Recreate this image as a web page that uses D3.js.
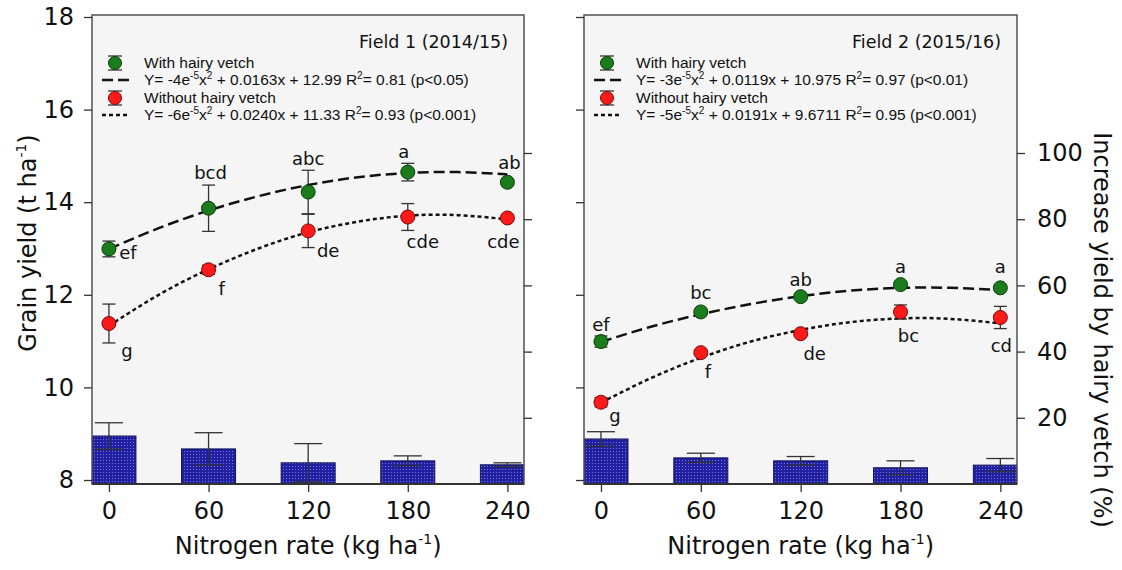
<!DOCTYPE html>
<html>
<head>
<meta charset="utf-8">
<script src="https://cdn.jsdelivr.net/npm/d3@7"></script>
<style>
  body { margin: 0; background: #fff; }
  svg { display: block; }
</style>
</head>
<body>
<svg width="1122" height="570"></svg>
<script>
// nitrogen rates (kg/ha) and tick values
var nRates = [0, 60, 120, 180, 240];
var yTicks = [8, 10, 12, 14, 16, 18];
var pctTicks = [20, 40, 60, 80, 100];
var fitRates = [0, 30, 60, 90, 120, 150, 180, 210, 240];

// Field 1 (2014/15) grain yield, t/ha
var f1With = [12.99, 13.87, 14.22, 14.65, 14.43];
var f1WithErr = [0.17, 0.5, 0.47, 0.19, 0.05];
var f1Without = [11.38, 12.54, 13.38, 13.68, 13.66];
var f1WithoutErr = [0.42, 0.1, 0.36, 0.29, 0.05];
var f1Increase = [14.5, 10.6, 6.4, 7.0, 5.8];
var f1IncreaseErr = [4.0, 4.9, 5.8, 1.5, 0.6];
var f1WithFit = [12.99, 13.44, 13.82, 14.13, 14.37, 14.54, 14.63, 14.65, 14.60];
var f1WithoutFit = [11.33, 12.00, 12.55, 13.00, 13.35, 13.58, 13.71, 13.72, 13.63];
var f1WithLetters = ["ef", "bcd", "abc", "a", "ab"];
var f1WithoutLetters = ["g", "f", "de", "cde", "cde"];

// Field 2 (2015/16)
var f2With = [10.99, 11.63, 11.96, 12.22, 12.15];
var f2WithErr = [0.12, 0.05, 0.05, 0.05, 0.05];
var f2Without = [9.68, 10.75, 11.16, 11.63, 11.51];
var f2WithoutErr = [0.1, 0.05, 0.05, 0.15, 0.24];
var f2Increase = [13.6, 7.9, 7.0, 4.9, 5.7];
var f2IncreaseErr = [2.2, 1.4, 1.3, 2.1, 2.0];
var f2WithFit = [10.98, 11.31, 11.58, 11.80, 11.97, 12.09, 12.15, 12.15, 12.10];
var f2WithoutFit = [9.67, 10.20, 10.64, 10.99, 11.24, 11.41, 11.49, 11.48, 11.38];
var f2WithLetters = ["ef", "bc", "ab", "a", "a"];
var f2WithoutLetters = ["g", "f", "de", "bc", "cd"];

var svg = d3.select("svg");
var FONT = "'DejaVu Sans', Verdana, sans-serif";
var LEG_FONT = "'Liberation Sans', Arial, sans-serif";
var plotTop = 15, plotBottom = 484;

var y = d3.scaleLinear().domain([8, 18]).range([480, 17]);
var y2 = d3.scaleLinear().domain([0, 100]).range([484, 153]);

// dotted blue fill for the bars
var defs = svg.append("defs");
var pat = defs.append("pattern").attr("id", "dots")
    .attr("width", 3).attr("height", 3).attr("patternUnits", "userSpaceOnUse");
pat.append("rect").attr("width", 3).attr("height", 3).attr("fill", "#2020a0");
pat.append("rect").attr("x", 1).attr("y", 1).attr("width", 1).attr("height", 1).attr("fill", "#7878dc");

var panels = [
  {
    id: 1, left: 92, right: 524, title: "Field 1 (2014/15)",
    withV: f1With, withE: f1WithErr, woV: f1Without, woE: f1WithoutErr,
    inc: f1Increase, incE: f1IncreaseErr, withFit: f1WithFit, woFit: f1WithoutFit,
    withL: f1WithLetters, woL: f1WithoutLetters,
    withOff: [[19, 4], [2, -36], [0, -33], [-4, -20], [2, -20]],
    woOff: [[18, 27], [13, 19], [20, 20], [15, 25], [-4, 24]],
    eq1: ["-4e", "-5", " + 0.0163x + 12.99 R", "= 0.81 (p<0.05)"],
    eq2: ["-6e", "-5", " + 0.0240x + 11.33 R", "= 0.93 (p<0.001)"],
    leftLabels: true, rightLabels: false
  },
  {
    id: 2, left: 584, right: 1017, title: "Field 2 (2015/16)",
    withV: f2With, withE: f2WithErr, woV: f2Without, woE: f2WithoutErr,
    inc: f2Increase, incE: f2IncreaseErr, withFit: f2WithFit, woFit: f2WithoutFit,
    withL: f2WithLetters, woL: f2WithoutLetters,
    withOff: [[0, -17], [0, -19], [0, -17], [0, -18], [0, -21]],
    woOff: [[14, 13], [7, 19], [14, 20], [8, 24], [1, 28]],
    eq1: ["-3e", "-5", " + 0.0119x + 10.975 R", "= 0.97 (p<0.01)"],
    eq2: ["-5e", "-5", " + 0.0191x + 9.6711 R", "= 0.95 (p<0.001)"],
    leftLabels: false, rightLabels: true
  }
];

panels.forEach(drawPanel);

function drawPanel(p) {
  var x = d3.scaleLinear().domain([-10.2, 250]).range([p.left, p.right]);
  var g = svg.append("g");

  defs.append("clipPath").attr("id", "clip" + p.id)
    .append("rect").attr("x", p.left).attr("y", plotTop)
    .attr("width", p.right - p.left).attr("height", plotBottom - plotTop);

  g.append("rect")
    .attr("x", p.left).attr("y", plotTop)
    .attr("width", p.right - p.left).attr("height", plotBottom - plotTop)
    .attr("fill", "#f5f5f5");

  // bars: yield increase (%)
  var barW = 54;
  var bars = g.append("g").attr("clip-path", "url(#clip" + p.id + ")");
  bars.selectAll("rect").data(p.inc).enter().append("rect")
    .attr("x", function (d, i) { return x(nRates[i]) - barW / 2; })
    .attr("y", function (d) { return y2(d); })
    .attr("width", barW)
    .attr("height", function (d) { return y2(0) - y2(d); })
    .attr("fill", "url(#dots)")
    .attr("stroke", "#14145a").attr("stroke-width", 1);

  errBars(bars, p.inc, p.incE, x, y2, 14);

  // fitted curves
  var line = d3.line()
    .x(function (d, i) { return x(fitRates[i]); })
    .y(function (d) { return y(d); })
    .curve(d3.curveNatural);
  g.append("path").datum(p.withFit).attr("d", line)
    .attr("fill", "none").attr("stroke", "#111").attr("stroke-width", 2.5)
    .attr("stroke-dasharray", "11,5");
  g.append("path").datum(p.woFit).attr("d", line)
    .attr("fill", "none").attr("stroke", "#111").attr("stroke-width", 2.5)
    .attr("stroke-dasharray", "4,3");

  errBars(g, p.withV, p.withE, x, y, 6.5);
  errBars(g, p.woV, p.woE, x, y, 6.5);

  dots(g, p.withV, x, "#1b7c1b", "#0b3b0b");
  dots(g, p.woV, x, "#ff1a1a", "#7a0a0a");

  letters(g, p.withV, p.withL, p.withOff, x);
  letters(g, p.woV, p.woL, p.woOff, x);

  // frame
  g.append("rect")
    .attr("x", p.left).attr("y", plotTop)
    .attr("width", p.right - p.left).attr("height", plotBottom - plotTop)
    .attr("fill", "none").attr("stroke", "#505050").attr("stroke-width", 1.5);
  g.append("line").attr("x1", p.left).attr("x2", p.right)
    .attr("y1", plotBottom).attr("y2", plotBottom)
    .attr("stroke", "#333").attr("stroke-width", 2);

  // axes
  var xAxis = g.append("g").attr("transform", "translate(0," + plotBottom + ")")
    .call(d3.axisBottom(x).tickValues(nRates).tickSize(8).tickPadding(10));
  styleAxis(xAxis);

  var yAxis = g.append("g").attr("transform", "translate(" + p.left + ",0)")
    .call(d3.axisLeft(y).tickValues(yTicks).tickSize(8).tickPadding(10)
      .tickFormat(p.leftLabels ? d3.format("d") : ""));
  styleAxis(yAxis);

  var y2Axis = g.append("g").attr("transform", "translate(" + p.right + ",0)")
    .call(d3.axisRight(y2).tickValues(pctTicks).tickSize(8).tickPadding(12)
      .tickFormat(p.rightLabels ? d3.format("d") : ""));
  styleAxis(y2Axis);

  var xt = g.append("text")
    .attr("x", (x(0) + x(240)) / 2).attr("y", 554)
    .attr("text-anchor", "middle")
    .style("font-family", FONT).style("font-size", "24px").attr("fill", "#111");
  xt.append("tspan").text("Nitrogen rate (kg ha");
  xt.append("tspan").text("-1").attr("dy", -10).style("font-size", "14px");
  xt.append("tspan").text(")").attr("dy", 10);

  // legend
  g.append("text")
    .attr("x", p.right - 16).attr("y", 48)
    .attr("text-anchor", "end")
    .style("font-family", FONT).style("font-size", "17.5px").attr("fill", "#111")
    .text(p.title);

  var lx = p.left + 23, tx = p.left + 52;
  legendDot(g, lx, 63, "#1b7c1b", "#0b3b0b");
  legendDot(g, lx, 98, "#ff1a1a", "#7a0a0a");
  g.append("line").attr("x1", lx - 13).attr("x2", lx + 14).attr("y1", 80).attr("y2", 80)
    .attr("stroke", "#111").attr("stroke-width", 2.5).attr("stroke-dasharray", "11,5");
  g.append("line").attr("x1", lx - 13).attr("x2", lx + 14).attr("y1", 115).attr("y2", 115)
    .attr("stroke", "#111").attr("stroke-width", 2.5).attr("stroke-dasharray", "4,3");

  legText(g, tx, 68).text("With hairy vetch");
  eqText(legText(g, tx, 85), p.eq1);
  legText(g, tx, 103).text("Without hairy vetch");
  eqText(legText(g, tx, 120), p.eq2);
}

function errBars(g, vals, errs, x, ys, half) {
  var e = g.append("g").attr("stroke", "#333").attr("stroke-width", 1.3);
  vals.forEach(function (v, i) {
    var cx = x(nRates[i]), hi = ys(v + errs[i]), lo = ys(v - errs[i]);
    e.append("line").attr("x1", cx).attr("x2", cx).attr("y1", hi).attr("y2", lo);
    e.append("line").attr("x1", cx - half).attr("x2", cx + half).attr("y1", hi).attr("y2", hi);
    e.append("line").attr("x1", cx - half).attr("x2", cx + half).attr("y1", lo).attr("y2", lo);
  });
}

function dots(g, vals, x, fill, stroke) {
  g.append("g").selectAll("circle").data(vals).enter().append("circle")
    .attr("cx", function (d, i) { return x(nRates[i]); })
    .attr("cy", function (d) { return y(d); })
    .attr("r", 7)
    .attr("fill", fill).attr("stroke", stroke).attr("stroke-width", 1);
}

function letters(g, vals, labs, offs, x) {
  g.append("g").selectAll("text").data(vals).enter().append("text")
    .attr("x", function (d, i) { return x(nRates[i]) + offs[i][0]; })
    .attr("y", function (d, i) { return y(d) + offs[i][1]; })
    .attr("dy", "0.35em")
    .attr("text-anchor", "middle")
    .style("font-family", FONT).style("font-size", "18px").attr("fill", "#111")
    .text(function (d, i) { return labs[i]; });
}

function legendDot(g, cx, cy, fill, stroke) {
  g.append("line").attr("x1", cx - 7).attr("x2", cx + 7).attr("y1", cy - 7).attr("y2", cy - 7)
    .attr("stroke", "#333").attr("stroke-width", 1.3);
  g.append("line").attr("x1", cx - 7).attr("x2", cx + 7).attr("y1", cy + 7).attr("y2", cy + 7)
    .attr("stroke", "#333").attr("stroke-width", 1.3);
  g.append("circle").attr("cx", cx).attr("cy", cy).attr("r", 6.5)
    .attr("fill", fill).attr("stroke", stroke);
}

function legText(g, x0, y0) {
  return g.append("text").attr("x", x0).attr("y", y0)
    .style("font-family", LEG_FONT).style("font-size", "15.5px").attr("fill", "#111");
}

function eqText(t, parts) {
  t.append("tspan").text("Y= " + parts[0]);
  t.append("tspan").text(parts[1]).attr("dy", -6).style("font-size", "10px");
  t.append("tspan").text("x").attr("dy", 6);
  t.append("tspan").text("2").attr("dy", -6).style("font-size", "10px");
  t.append("tspan").text(parts[2]).attr("dy", 6);
  t.append("tspan").text("2").attr("dy", -6).style("font-size", "10px");
  t.append("tspan").text(parts[3]).attr("dy", 6);
}

function styleAxis(a) {
  a.select(".domain").remove();
  a.selectAll(".tick line").attr("stroke", "#333").attr("stroke-width", 1.3);
  a.selectAll(".tick text")
    .style("font-family", FONT).style("font-size", "24px").attr("fill", "#111");
}

// y axis titles
var yt = svg.append("text")
  .attr("transform", "translate(36,243) rotate(-90)")
  .attr("text-anchor", "middle")
  .style("font-family", FONT).style("font-size", "24px").attr("fill", "#111");
yt.append("tspan").text("Grain yield (t ha");
yt.append("tspan").text("-1").attr("dy", -10).style("font-size", "14px");
yt.append("tspan").text(")").attr("dy", 10);

svg.append("text")
  .attr("transform", "translate(1094,330) rotate(90)")
  .attr("text-anchor", "middle")
  .style("font-family", FONT).style("font-size", "24px").attr("fill", "#111")
  .text("Increase yield by hairy vetch (%)");
</script>
</body>
</html>
